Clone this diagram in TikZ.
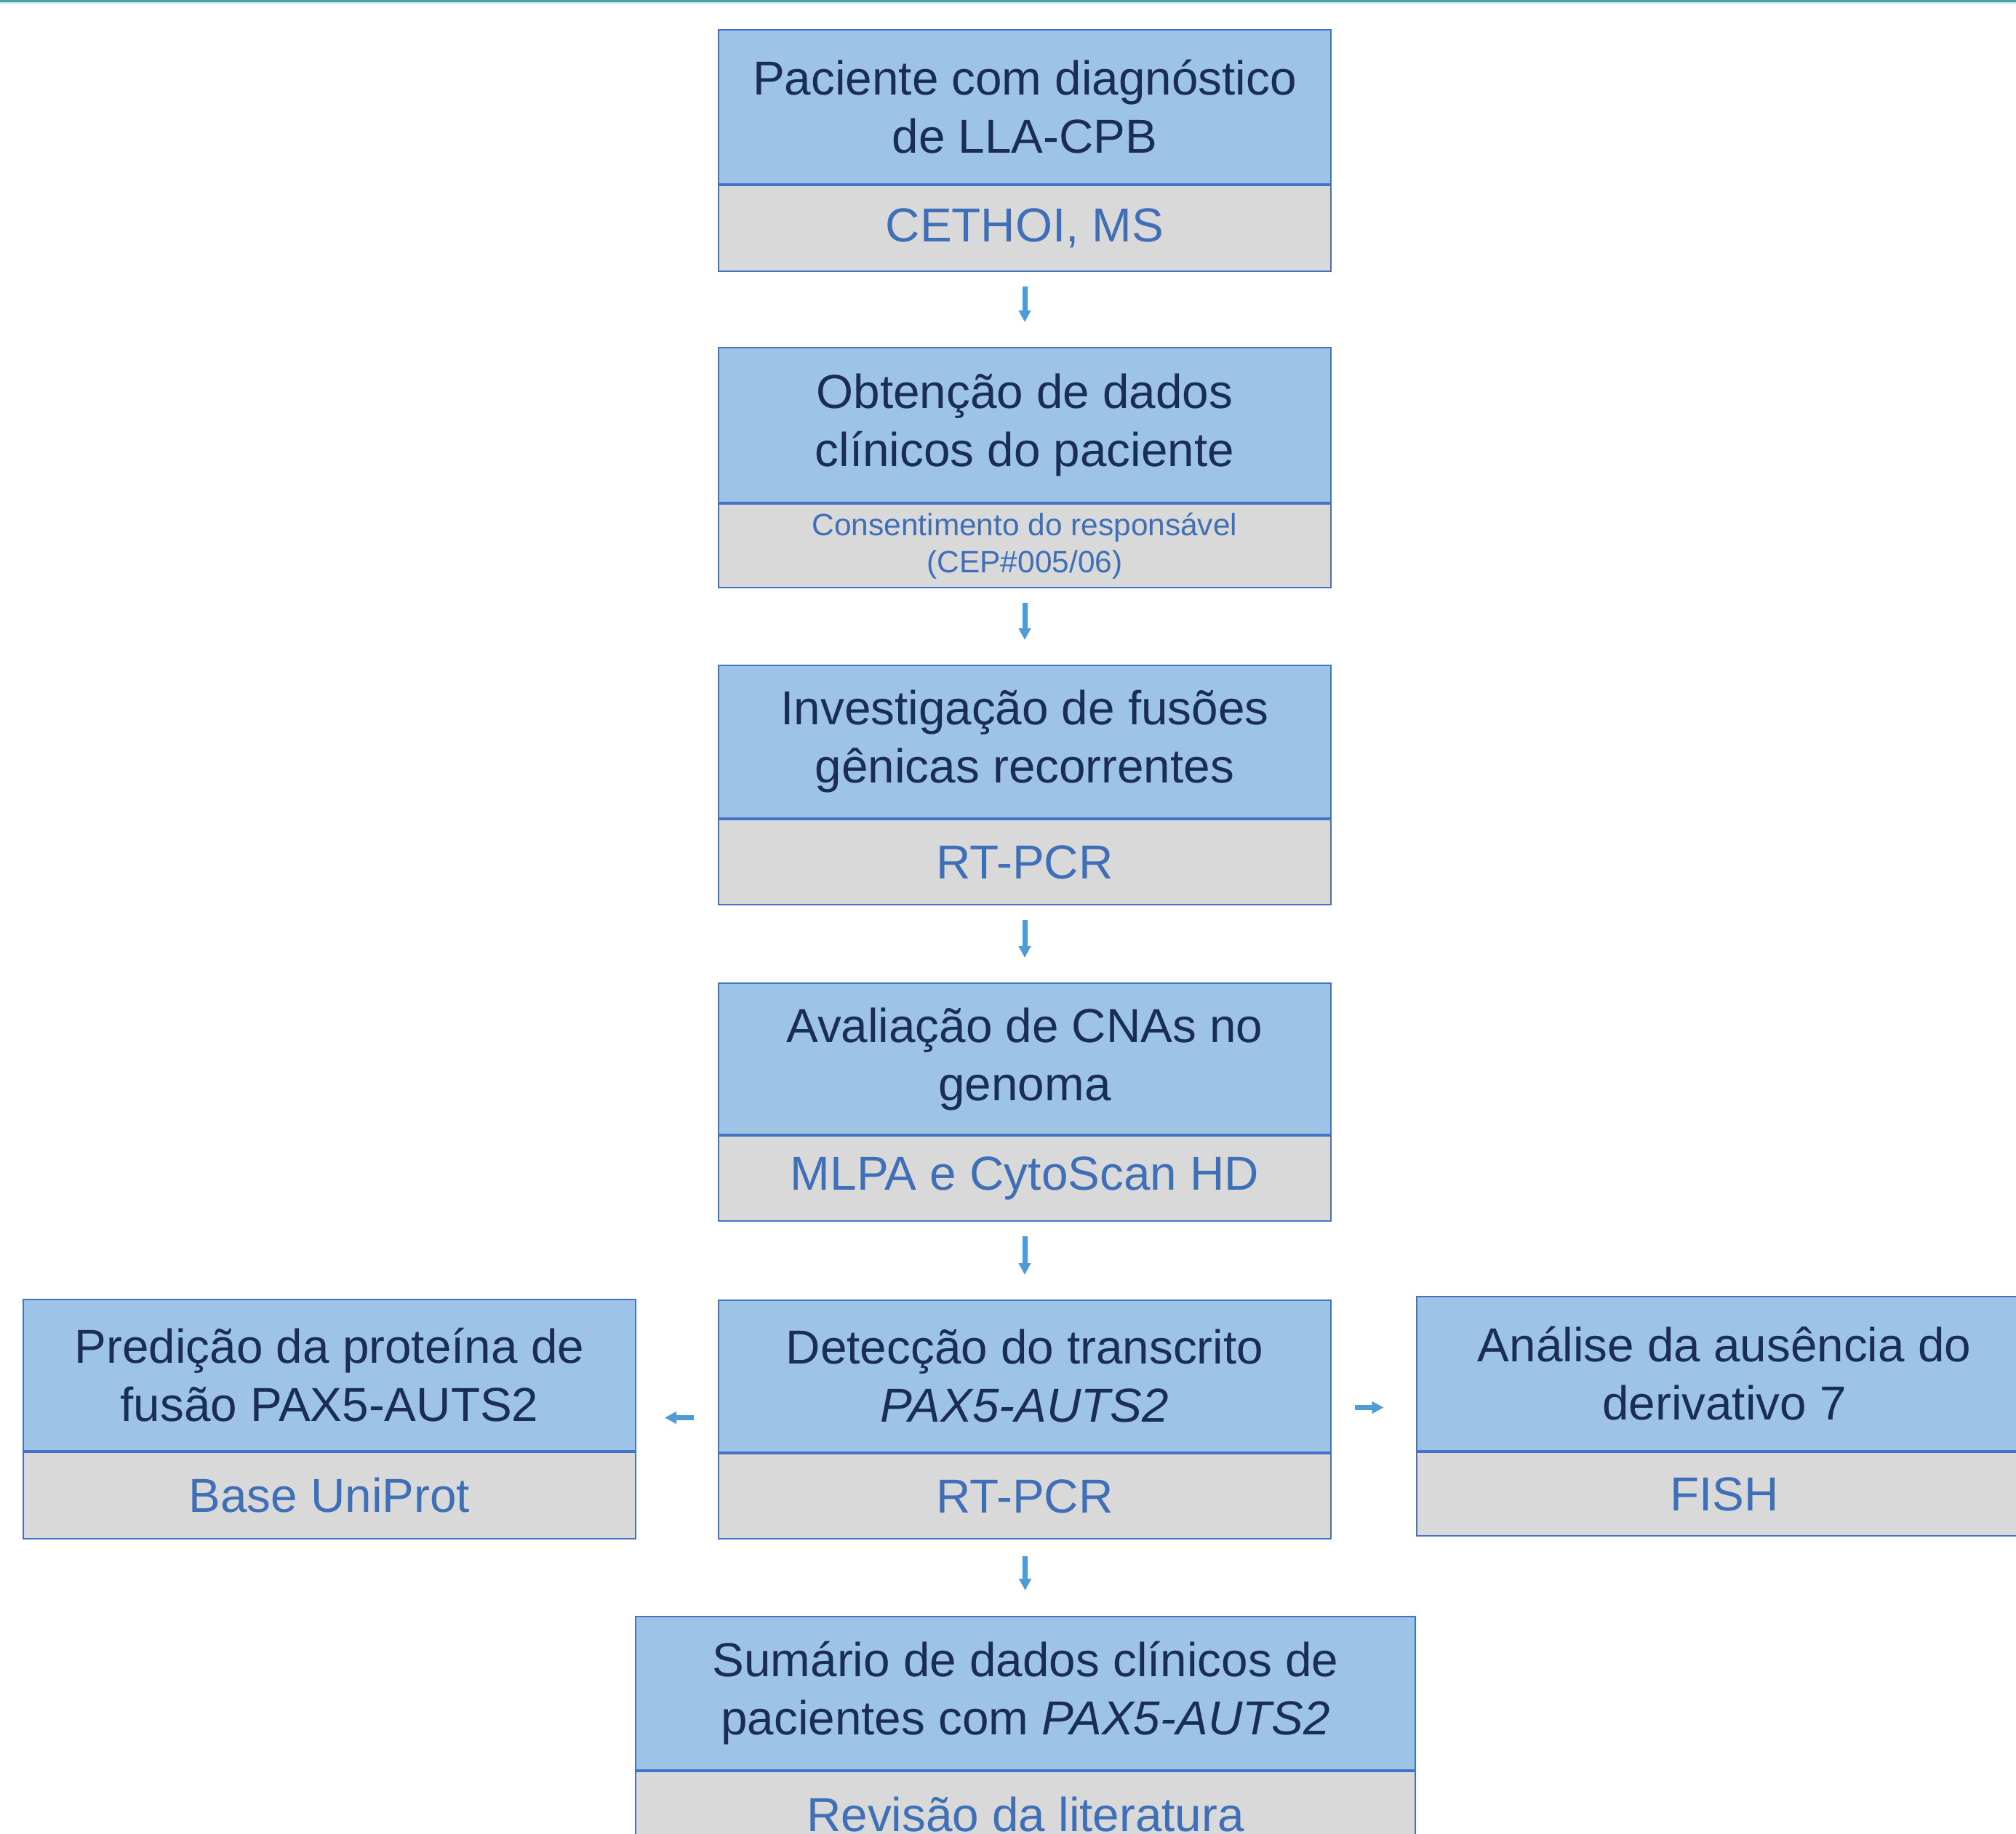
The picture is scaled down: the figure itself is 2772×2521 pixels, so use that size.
\documentclass[tikz,border=0pt]{standalone}
\usepackage{fontspec}
\setmainfont{Liberation Sans}
\usetikzlibrary{arrows.meta,calc}
\definecolor{bluef}{HTML}{9DC3E6}
\definecolor{grayf}{HTML}{D9D9D9}
\definecolor{bord}{HTML}{4472C4}
\definecolor{navy}{HTML}{1A2D58}
\definecolor{subc}{HTML}{3F6FB6}
\definecolor{arrc}{HTML}{4F9BD5}
\definecolor{teal1}{HTML}{4BA3AA}
\definecolor{teal2}{HTML}{C9E6E8}
\def\u{0.25pt}
\tikzset{
  tbox/.style={draw=bord, fill=bluef, line width=0.5pt, inner sep=0pt, text=navy,
    font=\fontsize{16.4}{20}\selectfont, align=center, anchor=north},
  sbox/.style={draw=bord, fill=grayf, line width=0.5pt, inner sep=0pt, text=subc,
    font=\fontsize{16.4}{20}\selectfont, align=center, anchor=north},
  smalltxt/.style={font=\fontsize{10.6}{12.75}\selectfont},
  conn/.style={draw=arrc, line width=1.75pt, -{Triangle[width=4pt,length=4pt]}},
}
\begin{document}
\begin{tikzpicture}[x=0.25pt, y=-0.25pt]
\useasboundingbox (0,0) rectangle (2772,2521);
\clip (0,0) rectangle (2772,2521);
\fill[teal1] (0,0) rectangle (2772,3);
\fill[teal2] (0,3) rectangle (2772,5);

% column boxes
\node[tbox, minimum width=842*\u, minimum height=212*\u] (t1) at (1409,40)
  {Paciente com diagnóstico\\de LLA-CPB};
\node[sbox, minimum width=842*\u, minimum height=118*\u] (s1) at (t1.south)
  {CETHOI, MS};

\node[tbox, minimum width=842*\u, minimum height=213*\u] (t2) at (1409,477)
  {Obtenção de dados\\clínicos do paciente};
\node[sbox, smalltxt, minimum width=842*\u, minimum height=115*\u] (s2) at (t2.south)
  {Consentimento do responsável\\(CEP\#005/06)};

\node[tbox, minimum width=842*\u, minimum height=210*\u] (t3) at (1409,914)
  {Investigação de fusões\\gênicas recorrentes};
\node[sbox, minimum width=842*\u, minimum height=117*\u] (s3) at (t3.south)
  {RT-PCR};

\node[tbox, minimum width=842*\u, minimum height=208*\u] (t4) at (1409,1351)
  {Avaliação de CNAs no\\genoma};
\node[sbox, minimum width=842*\u, minimum height=117*\u] (s4) at (t4.south)
  {MLPA e CytoScan HD};

\node[tbox, minimum width=842*\u, minimum height=209*\u] (t5) at (1409,1787)
  {Detecção do transcrito\\\textit{PAX5-AUTS2}};
\node[sbox, minimum width=842*\u, minimum height=117*\u] (s5) at (t5.south)
  {RT-PCR};

% side boxes
\node[tbox, minimum width=842*\u, minimum height=208*\u] (tl) at (453,1786)
  {Predição da proteína de\\fusão PAX5-AUTS2};
\node[sbox, minimum width=842*\u, minimum height=119*\u] (sl) at (tl.south)
  {Base UniProt};

\node[tbox, minimum width=847*\u, minimum height=212*\u] (tr) at (2371,1782)
  {Análise da ausência do\\derivativo 7};
\node[sbox, minimum width=847*\u, minimum height=115*\u] (sr) at (tr.south)
  {FISH};

% bottom box
\node[tbox, minimum width=1072*\u, minimum height=211*\u] (t6) at (1410,2222)
  {Sumário de dados clínicos de\\pacientes com \textit{PAX5-AUTS2}};
\node[sbox, minimum width=1072*\u, minimum height=118*\u] (s6) at (t6.south)
  {Revisão da literatura};

% connectors
\draw[conn, shorten <=20*\u, shorten >=34*\u] (s1.south) -- (t2.north);
\draw[conn, shorten <=20*\u, shorten >=34*\u] (s2.south) -- (t3.north);
\draw[conn, shorten <=20*\u, shorten >=34*\u] (s3.south) -- (t4.north);
\draw[conn, shorten <=20*\u, shorten >=34*\u] (s4.south) -- (t5.north);
\draw[conn, shorten <=23*\u, shorten >=35*\u] (s5.south) -- (t6.north);
\draw[conn, shorten <=33*\u, shorten >=39*\u] ([yshift=-57*\u]t5.west) -- ([yshift=-57*\u]t5.west -| tl.east);
\draw[conn, shorten <=32*\u, shorten >=44*\u] ([yshift=-43*\u]t5.east) -- ([yshift=-43*\u]t5.east -| tr.west);
\end{tikzpicture}
\end{document}
